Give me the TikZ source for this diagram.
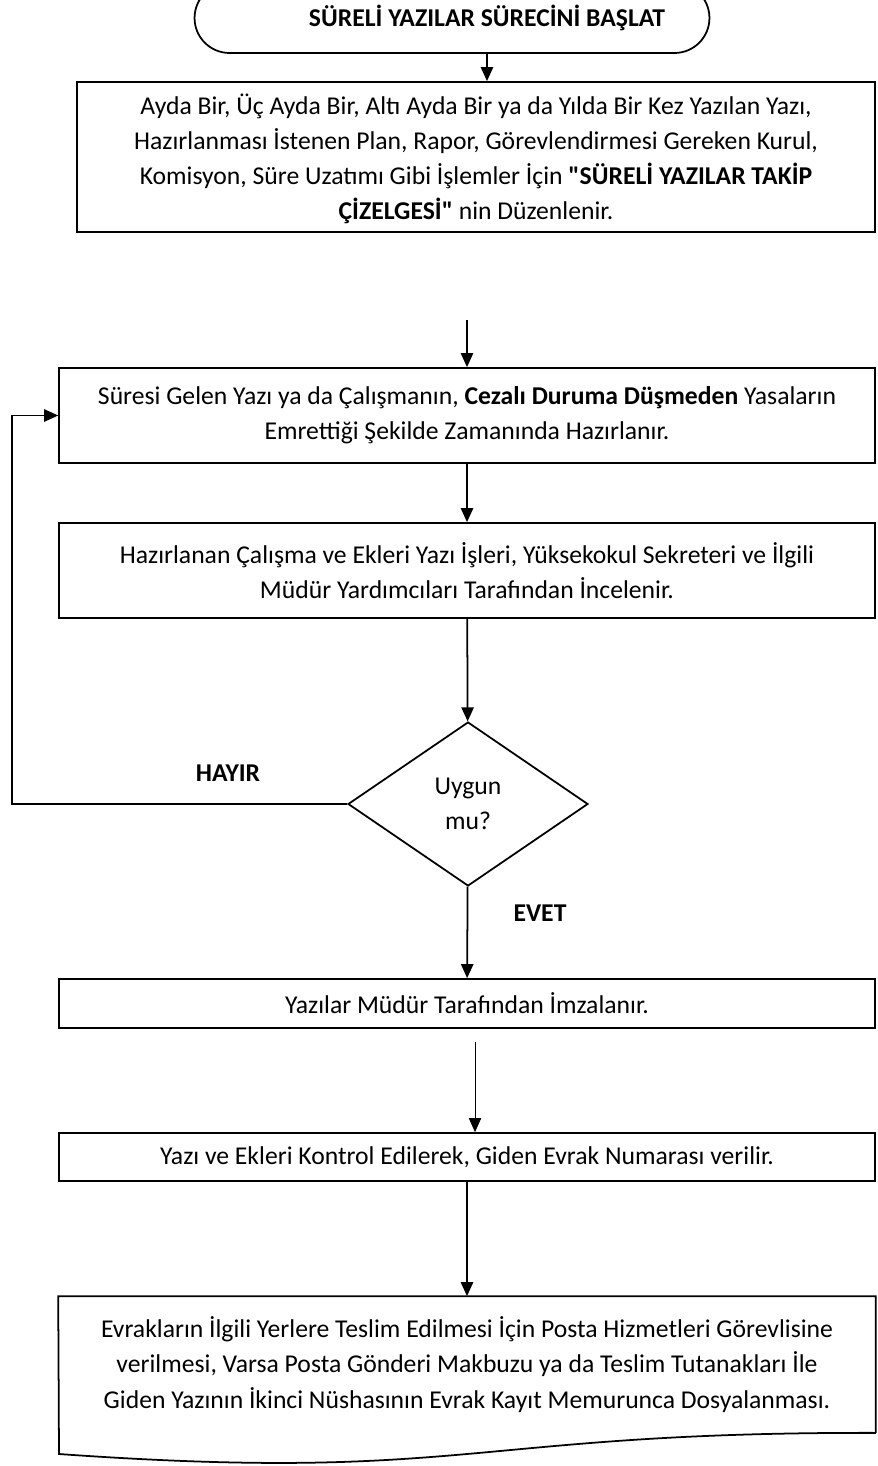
\documentclass[tikz,border=0pt]{standalone}
\usepackage{fontspec}
\setmainfont{Carlito}
\usetikzlibrary{arrows.meta,shapes.geometric,shapes.misc,positioning}

\begin{document}
\begin{tikzpicture}[x=0.02cm,y=-0.02cm,>={Triangle[length=8pt,width=7pt]},
    line width=1pt,
    txt/.style={font=\fontsize{14.6}{20}\selectfont,align=center},
    stepbox/.style={txt,draw,rectangle,inner sep=0pt,minimum width=16.32cm},
    startbox/.style={txt,draw,rounded rectangle,inner sep=0pt,minimum width=10.3cm,minimum height=1.4cm,font=\fontsize{14.6}{20}\selectfont\bfseries},
    decision/.style={txt,draw,diamond,inner sep=0pt,minimum width=4.8cm,minimum height=3.28cm},
    answer/.style={font=\fontsize{14.6}{20}\selectfont\bfseries}]

    \useasboundingbox (0,0) rectangle (878,1466);

    \node[startbox] (start) at (452,18) {\hspace*{1.4cm}SÜRELİ YAZILAR SÜRECİNİ BAŞLAT};

    \node[stepbox,minimum width=15.96cm,minimum height=3cm,text depth=-4pt] (plan) at (476,157)
        {Ayda Bir, Üç Ayda Bir, Altı Ayda Bir ya da Yılda Bir Kez Yazılan Yazı,\\
         Hazırlanması İstenen Plan, Rapor, Görevlendirmesi Gereken Kurul,\\
         Komisyon, Süre Uzatımı Gibi İşlemler İçin \textbf{\textquotedbl SÜRELİ YAZILAR TAKİP}\\
         \textbf{ÇİZELGESİ\textquotedbl} nin Düzenlenir.};

    \node[stepbox,minimum height=1.9cm] (prep) at (467,415.5)
        {Süresi Gelen Yazı ya da Çalışmanın, \textbf{Cezalı Duruma Düşmeden} Yasaların\\
         Emrettiği Şekilde Zamanında Hazırlanır.};

    \node[stepbox,minimum height=1.9cm] (check) at (467,570.5)
        {Hazırlanan Çalışma ve Ekleri Yazı İşleri, Yüksekokul Sekreteri ve İlgili\\
         Müdür Yardımcıları Tarafından İncelenir.};

    \node[decision] (ok) at (468,804) {Uygun\\mu?};

    \node[answer] (no) at (228,773) {HAYIR};
    \node[answer] (yes) at (540,913) {EVET};

    \node[stepbox,minimum height=0.98cm] (sign) at (467,1003.5)
        {Yazılar Müdür Tarafından İmzalanır.};

    \node[stepbox,minimum height=0.96cm] (number) at (467,1157)
        {Yazı ve Ekleri Kontrol Edilerek, Giden Evrak Numarası verilir.};

    % document shape: text area plus wavy bottom edge
    \node[txt,inner sep=0pt,minimum width=16.32cm,minimum height=2.7cm] (post) at (467,1364.5)
        {Evrakların İlgili Yerlere Teslim Edilmesi İçin Posta Hizmetleri Görevlisine\\
         verilmesi, Varsa Posta Gönderi Makbuzu ya da Teslim Tutanakları İle\\
         Giden Yazının İkinci Nüshasının Evrak Kayıt Memurunca Dosyalanması.};
    \draw (post.south east) -- (post.north east) -- (post.north west) -- (59,1454)
        .. controls (467,1483) and (467,1432) .. (post.south east);

    \coordinate (cont) at (467,320);
    \coordinate (back) at (12,0);
    \coordinate (hand) at (475,1042);

    \draw[->] ([xshift=0.7cm]start.south) -- ([xshift=0.7cm]start.south |- plan.north);
    \draw[->] (cont) -- (prep.north);
    \draw[->] (prep) -- (check);
    \draw[->] (check) -- (ok);
    \draw[->] (ok.west) -- (ok.west -| back) |- (prep.west);
    \draw[->] (ok) -- (sign);
    \draw[->,line width=0.5pt] (hand) -- (hand |- number.north);
    \draw[->] (number) -- (post);

\end{tikzpicture}
\end{document}
